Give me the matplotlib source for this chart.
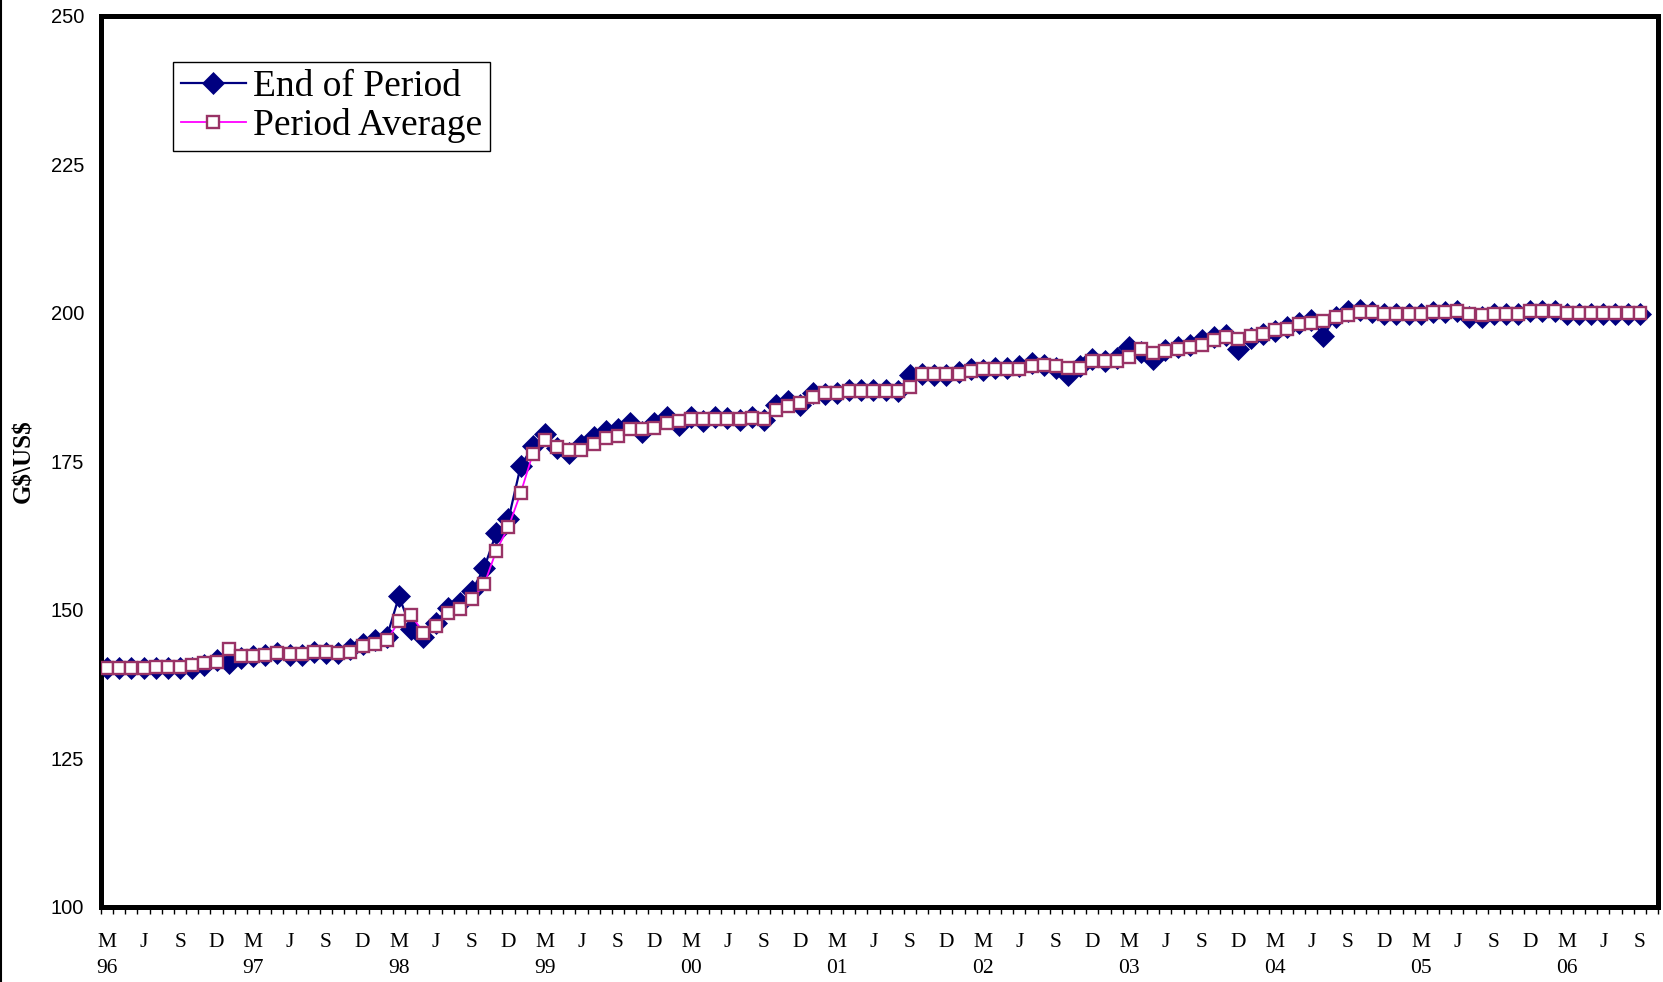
import matplotlib
matplotlib.use("Agg")
import matplotlib.pyplot as plt
from matplotlib.lines import Line2D
import numpy as np

plt.rcParams["text.parse_math"] = False

# ---- data (monthly, Mar 1996 .. Sep 2006) ----
months = ["M", "A", "M", "J", "J", "A", "S", "O", "N", "D", "J", "F"]  # starting March
start_year = 1996
end_of_period = [
    140.2, 140.2, 140.2, 140.2, 140.2, 140.2, 140.2, 140.3, 140.8, 141.5,
    141.0, 142.0, 142.3, 142.5, 142.7, 142.5, 142.5, 142.9, 142.8, 142.8,
    143.5, 144.3, 145.0, 145.5, 152.3, 146.8, 145.5, 147.8, 150.3, 151.2,
    153.2, 157.1, 163.0, 165.3, 174.2, 177.6, 179.6, 177.2, 176.4, 177.8,
    179.2, 180.2, 180.4, 181.5, 180.0, 181.4, 182.5, 181.2, 182.5, 181.8,
    182.5, 182.3, 182.0, 182.5, 182.0, 184.5, 185.2, 184.5, 186.5, 186.3,
    186.6, 187.0, 187.0, 187.0, 187.0, 186.8, 189.5, 189.8, 189.6, 189.6,
    190.0, 190.6, 190.4, 190.8, 190.8, 191.0, 191.5, 191.2, 190.8, 189.5,
    191.0, 192.3, 192.0, 192.5, 194.3, 193.5, 192.2, 193.8, 194.3, 194.6,
    195.4, 196.0, 196.3, 193.9, 195.8, 196.5, 196.9, 197.6, 198.3, 198.8,
    196.2, 199.3, 200.3, 200.5, 200.2, 199.8, 199.8, 199.9, 199.9, 200.2,
    200.2, 200.4, 199.3, 199.3, 199.9, 199.9, 199.9, 200.4, 200.4, 200.4,
    199.8, 199.9, 199.9, 199.9, 199.9, 199.9, 199.9,
]
period_average = [
    140.3, 140.3, 140.3, 140.3, 140.4, 140.4, 140.4, 140.7, 141.0, 141.2,
    143.5, 142.3, 142.3, 142.5, 142.7, 142.6, 142.6, 142.9, 142.9, 142.8,
    142.9, 143.9, 144.3, 144.9, 148.1, 149.1, 146.2, 147.3, 149.5, 150.1,
    151.8, 154.3, 160.0, 164.0, 169.7, 176.3, 178.6, 177.5, 176.9, 177.0,
    178.0, 179.0, 179.3, 180.4, 180.4, 180.7, 181.5, 181.8, 182.1, 182.1,
    182.1, 182.1, 182.1, 182.4, 182.2, 183.6, 184.3, 184.9, 185.9, 186.6,
    186.6, 186.8, 186.8, 186.8, 186.8, 186.8, 187.5, 189.7, 189.7, 189.7,
    189.7, 190.3, 190.5, 190.5, 190.5, 190.5, 191.0, 191.3, 191.0, 190.7,
    190.7, 191.9, 191.9, 192.0, 192.6, 194.0, 193.3, 193.6, 194.0, 194.2,
    194.6, 195.4, 196.0, 195.6, 196.2, 196.4, 197.2, 197.3, 198.2, 198.4,
    198.6, 199.4, 199.6, 200.1, 200.1, 199.9, 199.9, 199.9, 199.9, 200.1,
    200.1, 200.3, 199.9, 199.7, 199.9, 199.9, 199.9, 200.3, 200.3, 200.3,
    199.95, 199.95, 199.95, 199.95, 199.95, 199.95, 199.95,
]
n_categories = 128  # one empty category slot at the end, as in the original
y_ticks = [100, 125, 150, 175, 200, 225, 250]
legend_labels = ["End of Period", "Period Average"]
y_label = "G$\\US$"

# ---- figure ----
W, H = 1663, 982
fig = plt.figure(figsize=(W / 100, H / 100), dpi=100)
L, R, T, B = 101, 1658, 16, 907
ax = fig.add_axes([L / W, 1 - B / H, (R - L) / W, (B - T) / H])

x = np.arange(len(end_of_period))
ax.plot(x, end_of_period, color="#000080", lw=1.6, marker="D", ms=11.5,
        mfc="#000080", mec="#000080", mew=0.5, label=legend_labels[0], zorder=3)
ax.plot(x, period_average, color="#FF00FF", lw=1.3, marker="s", ms=8,
        mfc="white", mec="#993366", mew=1.7, label=legend_labels[1], zorder=4)

ax.set_xlim(-0.5, n_categories - 0.5)
ax.set_ylim(100, 250)

# y axis
ax.set_yticks(y_ticks)
ax.set_yticklabels([str(v) for v in y_ticks], fontfamily="Liberation Sans", fontsize=14.5)
ax.tick_params(axis="y", length=0, pad=12)

# x axis: labels every quarter, month tick marks
label_pos = list(range(0, len(end_of_period), 3))
labels = []
for i in label_pos:
    m = months[i % 12]
    if m == "M" and i % 12 == 0:
        labels.append(f"M\n{(start_year + i // 12) % 100:02d}")
    else:
        labels.append(m)
ax.set_xticks(label_pos)
ax.set_xticklabels(labels, fontfamily="Liberation Serif", fontsize=15.5, linespacing=1.5)
ax.tick_params(axis="x", which="major", length=0, pad=18.5)
ax.set_xticks(np.arange(n_categories + 1) - 0.5, minor=True)
ax.tick_params(axis="x", which="minor", length=5, width=1, direction="out", color="black")

for s in ax.spines.values():
    s.set_linewidth(3.6)
    s.set_color("black")

ax.set_ylabel(y_label, fontfamily="Liberation Serif", fontweight="bold", fontsize=18)
ax.yaxis.set_label_coords(-(L - 35) / (R - L), 0.5)

leg = ax.legend(loc="upper left", bbox_to_anchor=((173 - L) / (R - L), (B - 62) / (B - T)),
                borderaxespad=0, prop={"family": "Liberation Serif", "size": 27},
                fancybox=False, edgecolor="black", framealpha=1,
                borderpad=0.2, labelspacing=0.12, handlelength=1.75, handletextpad=0.18)
leg.get_frame().set_linewidth(1.0)

fig.add_artist(Line2D([1 / W, 1 / W], [0, 1], transform=fig.transFigure, color="black", lw=1.5))

fig.savefig("out.png", dpi=100, facecolor="white")
